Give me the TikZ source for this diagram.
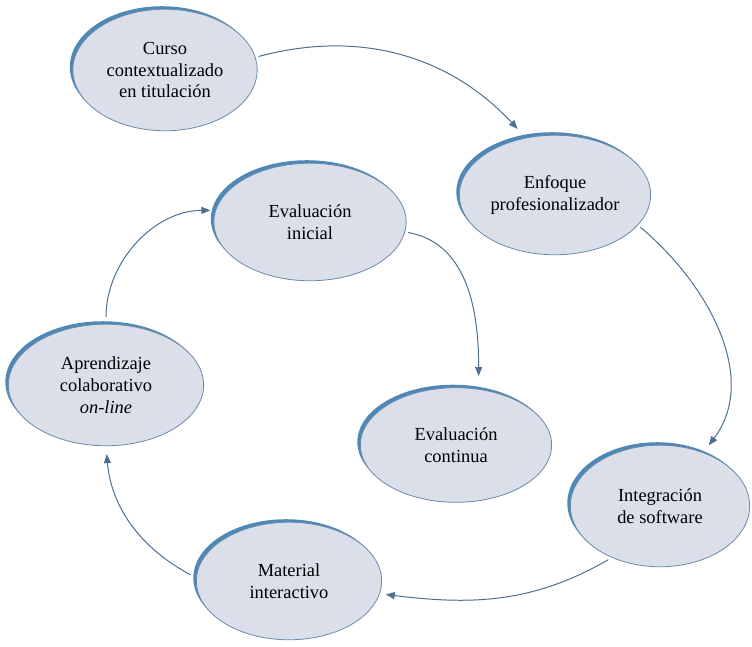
\documentclass[tikz,border=0pt]{standalone}
\usepackage{fontspec}
\setmainfont{Liberation Serif}
\usetikzlibrary{shapes.geometric, shadows, arrows.meta}

\definecolor{stepfill}{HTML}{DADFEA}
\definecolor{stepline}{HTML}{6B8AA8}
\definecolor{stepshade}{HTML}{4E88B6}
\definecolor{arrowblue}{HTML}{4D6F90}

\begin{document}
\begin{tikzpicture}[x=1bp, y=1bp, >={Triangle[length=9pt, width=7pt]},
  stepnode/.style={ellipse, draw=stepline, line width=0.8pt, fill=stepfill, align=center,
    font=\fontsize{18.5}{22}\selectfont, inner sep=0pt,
    general shadow={fill=stepshade, shadow xshift=-3pt, shadow yshift=3pt}},
  link/.style={->, draw=arrowblue, line width=1pt}]
  \useasboundingbox (0,0) rectangle (752,647);

  % Nodes
  \node[stepnode, minimum width=185, minimum height=122] (curso) at (165,577) {Curso\\contextualizado\\en titulación};
  \node[stepnode, minimum width=192, minimum height=120] (enfoque) at (555,452) {Enfoque\\profesionalizador};
  \node[stepnode, minimum width=193, minimum height=118] (inicial) at (310,425) {Evaluación\\inicial};
  \node[stepnode, minimum width=196, minimum height=122] (aprendizaje) at (106,262) {Aprendizaje\\colaborativo\\\textit{on-line}};
  \node[stepnode, minimum width=192, minimum height=115] (continua) at (456,202) {Evaluación\\continua};
  \node[stepnode, minimum width=180, minimum height=122] (integracion) at (660,141) {Integración\\de software};
  \node[stepnode, minimum width=186, minimum height=118] (material) at (289,66) {Material\\interactivo};

  % Transitions
  \draw[link, shorten <=3pt, shorten >=12pt] (curso.8) to[out=15, in=133] (enfoque.117);
  \draw[link, shorten <=3pt, shorten >=9pt] (enfoque.-20) to[out=-40, in=53] (integracion.51);
  \draw[link, shorten <=4pt, shorten >=6pt] (integracion.-133) to[out=-150, in=-7] (material.-8);
  \draw[link, shorten <=6pt, shorten >=8pt] (material.178) to[out=152, in=-85] (aprendizaje.-90);
  \draw[link, shorten <=7pt, shorten >=5pt] (aprendizaje.90) to[out=90, in=180] (inicial.173);
  \draw[link, shorten <=3pt, shorten >=13pt] (inicial.-6) to[out=-10, in=90] (continua.68);
\end{tikzpicture}
\end{document}
